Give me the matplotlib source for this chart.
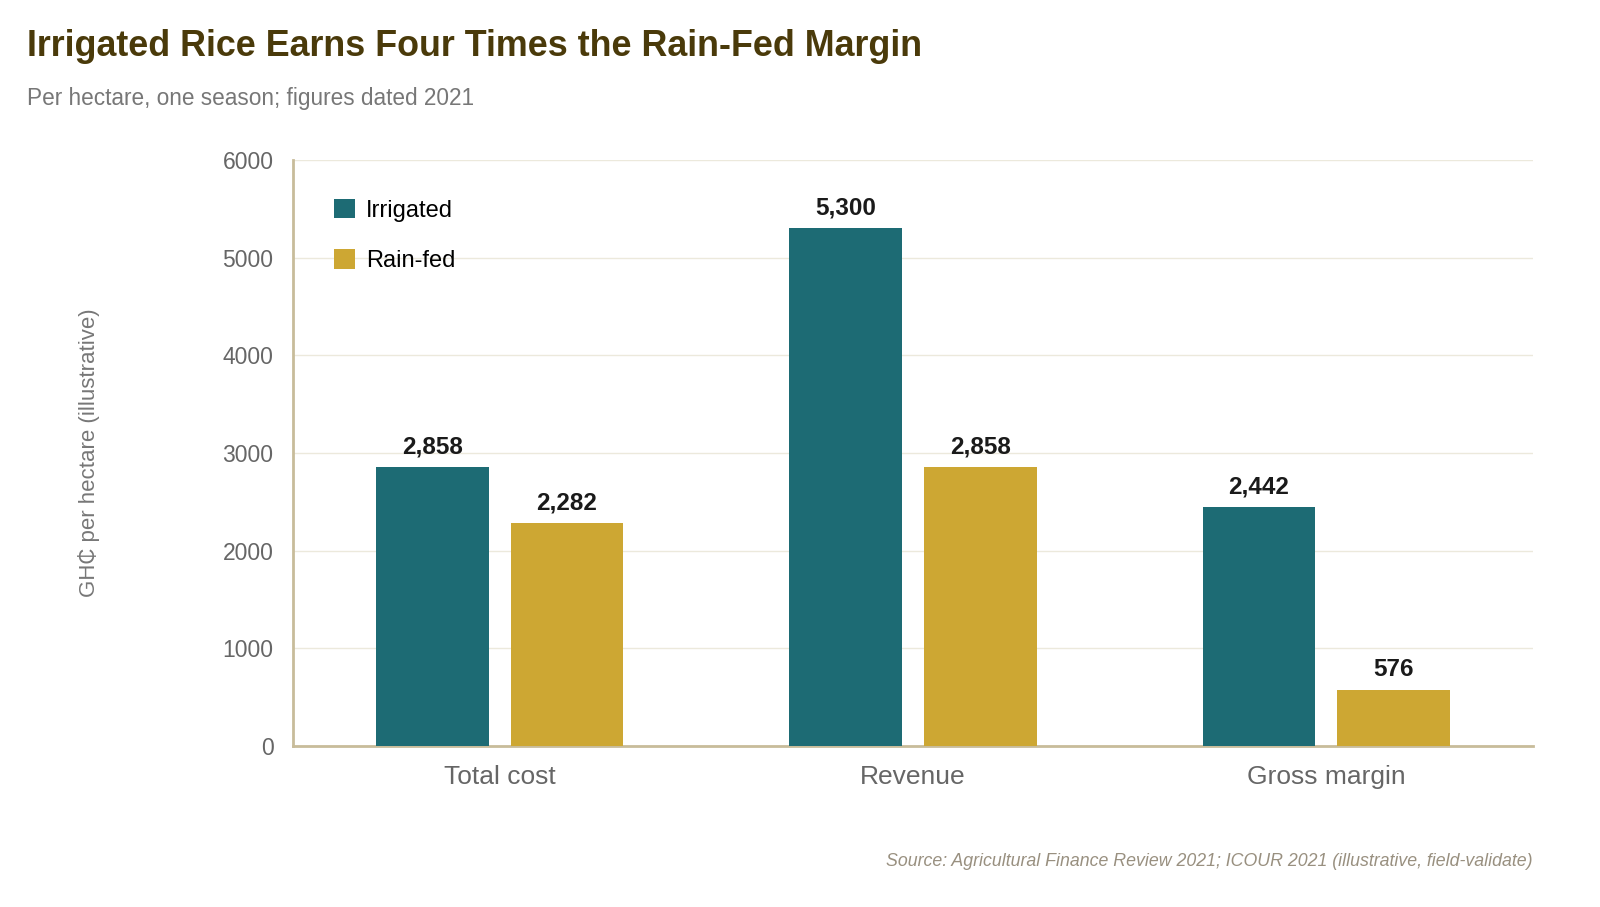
import numpy as np
import matplotlib.pyplot as plt

plt.rcParams['font.family'] = ['Liberation Sans', 'DejaVu Sans']

categories = ['Total cost', 'Revenue', 'Gross margin']
irrigated = [2858, 5300, 2442]
rainfed = [2282, 2858, 576]

teal = '#1D6B74'
gold = '#CDA733'

fig = plt.figure(figsize=(16, 9.07), dpi=100)
ax = fig.add_axes([293 / 1600, 1 - 746 / 907, (1533 - 293) / 1600, (746 - 160) / 907])

x = np.arange(len(categories))
w = 0.272
off = 0.163
b1 = ax.bar(x - off, irrigated, w, color=teal, label='Irrigated', zorder=3)
b2 = ax.bar(x + off, rainfed, w, color=gold, label='Rain-fed', zorder=3)

for bars, vals in [(b1, irrigated), (b2, rainfed)]:
    for r, v in zip(bars, vals):
        ax.text(r.get_x() + r.get_width() / 2, v + 90, f'{v:,}', ha='center', va='bottom',
                fontsize=17.5, fontweight='bold', color='#1a1a1a')

ax.set_xlim(-0.5, 2.5)
ax.set_ylim(0, 6000)
ax.set_yticks(range(0, 6001, 1000))
ax.set_xticks(x)
ax.set_xticklabels(categories)
ax.tick_params(axis='x', length=0, labelsize=19, labelcolor='#666666', pad=14)
ax.tick_params(axis='y', length=0, labelsize=16.5, labelcolor='#666666', pad=14)
ax.grid(axis='y', color='#ECE9DC', linewidth=1, zorder=0)
for s in ['top', 'right']:
    ax.spines[s].set_visible(False)
for s in ['left', 'bottom']:
    ax.spines[s].set_color('#C8BC9A')
    ax.spines[s].set_linewidth(2)

ax.set_ylabel('GH₵ per hectare (illustrative)', fontsize=16, color='#777777', labelpad=88)

leg = ax.legend(loc='upper left', bbox_to_anchor=(0.016, 0.97), frameon=False, fontsize=17,
                handlelength=0.9, handleheight=0.9, labelspacing=1.15, handletextpad=0.45)

fig.text(27 / 1600, 1 - 47 / 907, 'Irrigated Rice Earns Four Times the Rain-Fed Margin',
         fontsize=25.8, fontweight='bold', color='#4A3A0A', va='center')
fig.text(27 / 1600, 1 - 99 / 907, 'Per hectare, one season; figures dated 2021',
         fontsize=16.3, color='#777777', va='center')
fig.text(1533 / 1600, 1 - 861 / 907,
         'Source: Agricultural Finance Review 2021; ICOUR 2021 (illustrative, field-validate)',
         fontsize=12.8, style='italic', color='#999080', ha='right', va='center')

fig.savefig('out.png', dpi=100)
